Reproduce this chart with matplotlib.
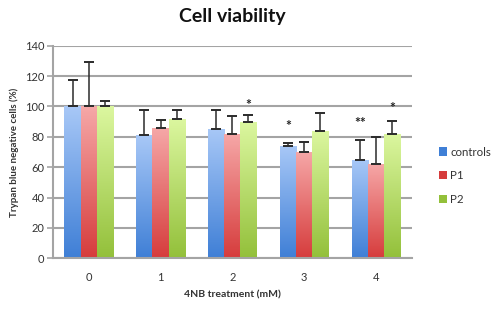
import numpy as np
import matplotlib.pyplot as plt
from matplotlib.colors import LinearSegmentedColormap
from matplotlib.patches import Patch

plt.rcParams["font.family"] = ["Lato", "DejaVu Sans"]

# ---------- data -------------------------------------------------------------
doses = ["0", "1", "2", "3", "4"]
series = ["controls", "P1", "P2"]
controls = [100, 81, 85, 74, 65]
p1 = [100, 86, 82, 70, 62]
p2 = [100, 92, 89.6, 84, 82]
controls_err = [17.4, 16.5, 12.5, 2, 12.7]
p1_err = [29, 5, 12, 6.4, 17.7]
p2_err = [3.6, 5.5, 4.6, 12, 8.6]
# significance marks: (group index, series index, label, y)
marks = [(2, 2, "*", 101), (3, 0, "*", 87), (4, 0, "**", 89), (4, 2, "*", 99)]

COLORS = [("#3f7fd6", "#a8c8f7"), ("#d63c3c", "#f6a8a8"), ("#93c03a", "#dcf7a0")]

# ---------- figure -----------------------------------------------------------
fig = plt.figure(figsize=(4.98, 3.11), dpi=100)
ax = fig.add_axes([0.106, 0.1695, 0.721, 0.6835])

x = np.arange(len(doses))
w = 0.225
vals = [controls, p1, p2]
errs = [controls_err, p1_err, p2_err]

grad = np.linspace(0, 1, 256).reshape(-1, 1)
for i, (v, e, (c0, c1)) in enumerate(zip(vals, errs, COLORS)):
    xs = x + (i - 1) * w
    bars = ax.bar(xs, v, width=w, color=c0, lw=0, zorder=2)
    cmap = LinearSegmentedColormap.from_list(f"g{i}", [c0, c1])
    for b in bars:
        bx, by = b.get_x(), b.get_y()
        bw, bh = b.get_width(), b.get_height()
        im = ax.imshow(grad, cmap=cmap, origin="lower", aspect="auto",
                       extent=[bx, bx + bw, by, by + bh], zorder=2.5)
        im.set_clip_path(b)
    ax.errorbar(xs, v, yerr=[np.zeros(len(v)), e], fmt="none",
                ecolor="#2b2b2b", elinewidth=1.1, capsize=3.5,
                capthick=1.4, zorder=3)

for g, s, lab, yy in marks:
    ax.text(x[g] + (s - 1) * w, yy, lab, ha="center", va="center",
            fontsize=10, color="#222222", fontweight="bold", zorder=4)

ax.set_xlim(-0.5, len(doses) - 0.5)
ax.set_ylim(0, 140)
ax.set_yticks(range(0, 141, 20))
ax.set_xticks(x)
ax.set_xticklabels(doses)
ax.yaxis.grid(True, color="#a4a4a4", lw=1.5, zorder=0)
ax.set_axisbelow(True)
for sp in ["top", "right"]:
    ax.spines[sp].set_visible(False)
for sp in ["left", "bottom"]:
    ax.spines[sp].set_color("#a4a4a4")
    ax.spines[sp].set_linewidth(1.5)
ax.tick_params(axis="y", length=4, color="#a4a4a4", width=1.2,
               labelsize=8, labelcolor="#333333", pad=2)
ax.tick_params(axis="x", length=0, labelsize=8, labelcolor="#333333", pad=10)

ax.set_ylabel("Trypan blue negative cells (%)", fontsize=7,
              fontweight="bold", color="#333333", labelpad=4)
ax.set_xlabel("4NB treatment (mM)", fontsize=7.5, fontweight="bold",
              color="#333333", labelpad=5)

fig.text(0.466, 0.948, "Cell viability", ha="center", va="center",
         fontsize=14, fontweight="bold", color="#111111")

handles = [Patch(facecolor=c[0], edgecolor="none", label=s)
           for s, c in zip(series, COLORS)]
fig.legend(handles=handles, loc="center left", bbox_to_anchor=(0.86, 0.435),
           frameon=False, fontsize=8.3, handlelength=0.7, handleheight=0.7,
           handletextpad=0.3, labelspacing=1.1, labelcolor="#333333")

fig.savefig("out.png", dpi=100)
